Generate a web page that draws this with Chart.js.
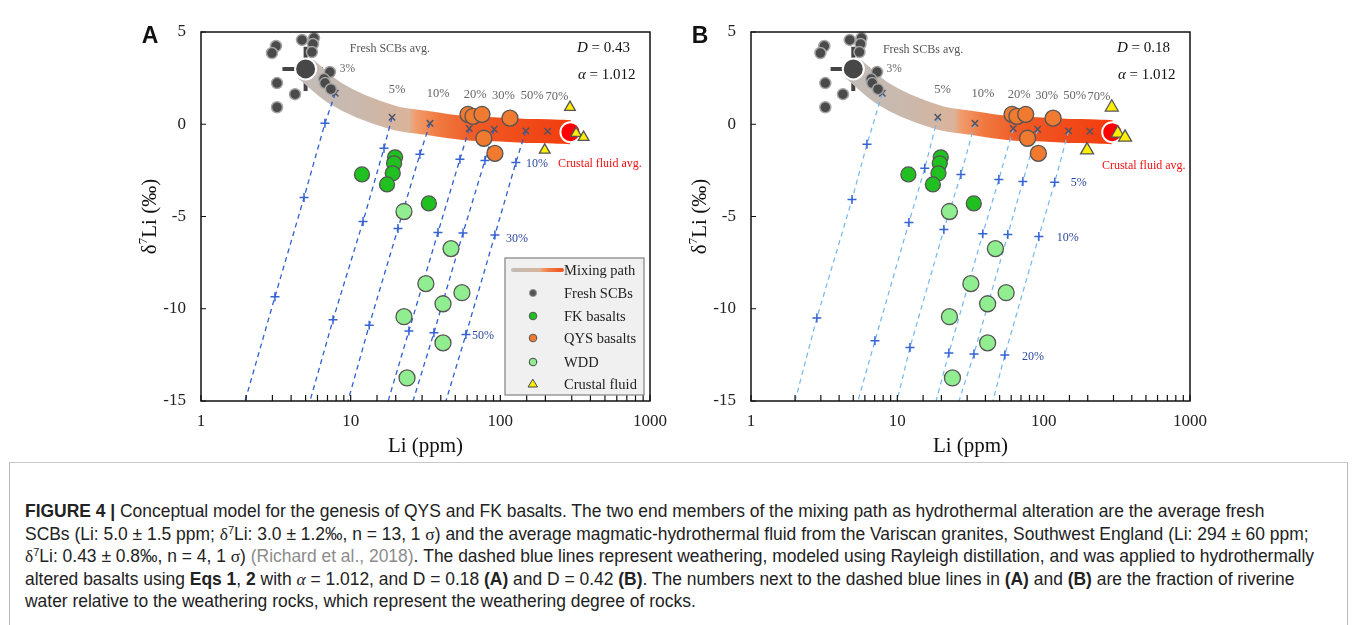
<!DOCTYPE html>
<html>
<head>
<meta charset="utf-8">
<script src="https://cdn.jsdelivr.net/npm/chart.js@4.4.0/dist/chart.umd.min.js"></script>
<style>
  body { margin: 0; background: #fff; width: 1355px; height: 625px; overflow: hidden; position: relative; }
  canvas { position: absolute; top: 0; }
  #ca { left: 0; }
  #cb { left: 550px; }
  #cap { position: absolute; left: 9px; top: 462px; width: 1337px; height: 180px; border: 1px solid #b8b8b8;
         border-top-color: #c8c8c8; font-family: "Liberation Sans", Arial, sans-serif; color: #222; }
  .ln { position: absolute; left: 15px; white-space: nowrap; font-size: 17.45px; line-height: 20px; }
  .ln b { font-weight: bold; }
  .ref { color: #8c8c8c; }
  .gk { font-family: "Liberation Serif", "Times New Roman", serif; }
  sup { font-size: 11px; line-height: 0; vertical-align: 6px; }
</style>
</head>
<body>
<div id="cap">
  <div class="ln" style="top:38px"><b>FIGURE 4 |</b> Conceptual model for the genesis of QYS and FK basalts. The two end members of the mixing path as hydrothermal alteration are the average fresh</div>
  <div class="ln" style="top:60.5px">SCBs (Li: 5.0 ± 1.5 ppm; <span class="gk">δ</span><sup>7</sup>Li: 3.0 ± 1.2‰, n = 13, 1 <span class="gk">σ</span>) and the average magmatic-hydrothermal fluid from the Variscan granites, Southwest England (Li: 294 ± 60 ppm;</div>
  <div class="ln" style="top:83px"><span class="gk">δ</span><sup>7</sup>Li: 0.43 ± 0.8‰, n = 4, 1 <span class="gk">σ</span>) <span class="ref">(Richard et al., 2018)</span>. The dashed blue lines represent weathering, modeled using Rayleigh distillation, and was applied to hydrothermally</div>
  <div class="ln" style="top:105.5px">altered basalts using <b>Eqs 1</b>, <b>2</b> with <i class="gk">α</i> = 1.012, and D = 0.18 <b>(A)</b> and D = 0.42 <b>(B)</b>. The numbers next to the dashed blue lines in <b>(A)</b> and <b>(B)</b> are the fraction of riverine</div>
  <div class="ln" style="top:128px">water relative to the weathering rocks, which represent the weathering degree of rocks.</div>
</div>
<canvas id="ca" width="680" height="470"></canvas>
<canvas id="cb" width="690" height="470"></canvas>
<script>
const SERIF = '"Liberation Serif", "Times New Roman", serif';

const liTicks = [1, 10, 100, 1000];
const dTicks = [5, 0, -5, -10, -15];

// samples (same in both panels)
const scbLi = [3.17, 2.98, 4.73, 5.69, 5.6, 5.51, 3.22, 4.25, 3.22, 7.27, 6.63, 6.74, 7.38];
const scbD = [4.24, 3.86, 4.57, 4.67, 4.35, 3.91, 2.23, 1.63, 0.92, 2.83, 2.45, 2.23, 1.9];
const fkLi = [19.8, 19.5, 19.1, 17.5, 11.9, 33.3];
const fkD = [-1.79, -2.12, -2.66, -3.26, -2.72, -4.29];
const qysLi = [60.8, 65.6, 75.4, 116, 77.6, 92];
const qysD = [0.54, 0.43, 0.54, 0.33, -0.76, -1.58];
const wddLi = [22.7, 46.8, 31.8, 55.4, 41.4, 22.7, 41.4, 23.8];
const wddD = [-4.73, -6.74, -8.64, -9.13, -9.73, -10.43, -11.85, -13.75];
const cfLi = [292, 321, 360, 198];
const cfD = [0.92, -0.49, -0.71, -1.4];

const scbAvg = [5.0, 3.0];
const scbErr = [1.5, 1.2];
const cfAvg = [294, -0.43];

// mixing path, end members plus the 3%..70% marks
const mixLi = [5, 7.9, 18.9, 33.9, 62, 91, 148, 207, 294];
const mixD = [3, 1.68, 0.38, 0.05, -0.23, -0.27, -0.36, -0.38, -0.43];
const mixPct = ['3%', '5%', '10%', '20%', '30%', '50%', '70%'];

// weathering lines, panel A (D = 0.43)
const wALi = [
  [7.9, 6.73, 4.88, 3.12, 1.97],
  [18.9, 16.7, 12.1, 7.62, 5.35],
  [33.9, 29.0, 20.7, 13.3, 9.6],
  [62, 53.7, 38.3, 24.5, 17.8],
  [91, 78.9, 56.3, 36.0, 26.1],
  [148, 127, 92, 58.9, 43.3]
];
const wAD = [
  [1.68, 0.05, -3.97, -9.35, -15],
  [0.38, -1.3, -5.27, -10.6, -15],
  [0.05, -1.63, -5.65, -10.9, -15],
  [-0.23, -1.9, -5.87, -11.2, -15],
  [-0.27, -1.96, -5.9, -11.3, -15],
  [-0.36, -2.07, -6.0, -11.4, -15]
];
const wAPct = ['10%', '30%', '50%'];

// weathering lines, panel B (D = 0.18)
const wBLi = [
  [7.9, 6.2, 4.9, 2.82, 2.0],
  [18.9, 15.4, 12.0, 7.03, 5.38],
  [33.9, 27.2, 20.8, 12.2, 9.94],
  [62, 49.4, 38.4, 22.5, 18.4],
  [91, 72.1, 56.9, 33.4, 26.4],
  [148, 119, 92.7, 54.3, 45.0]
];
const wBD = [
  [1.68, -1.09, -4.08, -10.5, -15],
  [0.38, -2.39, -5.33, -11.74, -15],
  [0.05, -2.72, -5.71, -12.1, -15],
  [-0.23, -2.99, -5.93, -12.4, -15],
  [-0.27, -3.1, -5.98, -12.45, -15],
  [-0.36, -3.15, -6.09, -12.5, -15]
];
const wBPct = ['5%', '10%', '20%'];

const pts = (xs, ys) => xs.map((x, i) => ({ x: x, y: ys[i] }));
const isTick = (arr, v) => arr.some(t => Math.abs(t - v) < 1e-6);

function bandGrad(ctx, x0, x1) {
  const g = ctx.createLinearGradient(x0, 0, x1, 0);
  g.addColorStop(0, '#c2bcb8');
  g.addColorStop(0.22, '#cbb8ab');
  g.addColorStop(0.39, '#dab39a');
  g.addColorStop(0.415, '#f09c6c');
  g.addColorStop(0.5, '#f07a42');
  g.addColorStop(0.64, '#f05a25');
  g.addColorStop(1, '#f23c0e');
  return g;
}

const deco = {
  id: 'deco',
  afterDraw(ch, args, o) {
    const { ctx, chartArea: ca, scales: { x, y } } = ch;
    ctx.save();
    // frame + inward ticks
    ctx.strokeStyle = '#111';
    ctx.lineWidth = 1.5;
    ctx.strokeRect(ca.left, ca.top, ca.right - ca.left, ca.bottom - ca.top);
    ctx.lineWidth = 1.2;
    ctx.beginPath();
    x.ticks.forEach(t => {
      const px = x.getPixelForValue(t.value);
      ctx.moveTo(px, ca.bottom);
      ctx.lineTo(px, ca.bottom - 6);
    });
    y.ticks.forEach(t => {
      const py = y.getPixelForValue(t.value);
      ctx.moveTo(ca.left, py);
      ctx.lineTo(ca.left + 5, py);
    });
    ctx.stroke();

    ctx.textBaseline = 'middle';
    // panel letter
    ctx.fillStyle = '#111';
    ctx.textAlign = 'center';
    ctx.font = 'bold 23px "Liberation Sans", Arial, sans-serif';
    ctx.fillText(o.tag, o.tagX, 37);

    // axis titles
    ctx.font = '21px ' + SERIF;
    ctx.fillText('Li (ppm)', (ca.left + ca.right) / 2, 446);
    ctx.save();
    ctx.translate(150, (ca.top + ca.bottom) / 2);
    ctx.rotate(-Math.PI / 2);
    const f1 = '21px ' + SERIF, f2 = '13px ' + SERIF;
    ctx.font = f1; const w1 = ctx.measureText('δ').width, w3 = ctx.measureText('Li (‰)').width;
    ctx.font = f2; const w2 = ctx.measureText('7').width;
    let sx = -(w1 + w2 + w3) / 2;
    ctx.textAlign = 'left';
    ctx.font = f1; ctx.fillText('δ', sx, 0); sx += w1;
    ctx.font = f2; ctx.fillText('7', sx, -6); sx += w2;
    ctx.font = f1; ctx.fillText('Li (‰)', sx, 0);
    ctx.restore();

    // D and alpha
    ctx.textAlign = 'left';
    const tx = ca.right - 73;
    ctx.font = 'italic 15px ' + SERIF;
    ctx.fillText('D', tx, 48);
    let wD = ctx.measureText('D').width;
    ctx.font = '15px ' + SERIF;
    ctx.fillText(' = ' + o.dVal, tx + wD, 48);
    ctx.font = 'italic 15px ' + SERIF;
    ctx.fillText('α', tx + 1, 75);
    wD = ctx.measureText('α').width;
    ctx.font = '15px ' + SERIF;
    ctx.fillText(' = 1.012', tx + 1 + wD, 75);

    // text notes anchored in data space
    ctx.textAlign = 'center';
    o.notes.forEach(n => {
      ctx.font = n[3] + 'px ' + SERIF;
      ctx.fillStyle = n[4];
      ctx.fillText(n[0], x.getPixelForValue(n[1]), y.getPixelForValue(n[2]));
    });

    // legend
    if (o.legend) {
      const L = o.legend;
      ctx.fillStyle = '#f0f0f0';
      ctx.fillRect(L.x, L.y, L.w, L.h);
      ctx.strokeStyle = '#8a8a8a';
      ctx.lineWidth = 1.3;
      ctx.strokeRect(L.x, L.y, L.w, L.h);
      const rows = [270, 293, 316, 338, 362, 384];
      const names = ['Mixing path', 'Fresh SCBs', 'FK basalts', 'QYS basalts', 'WDD', 'Crustal fluid'];
      const mx = L.x + 28;
      ctx.lineCap = 'round';
      ctx.strokeStyle = bandGrad(ctx, L.x + 4, L.x + 84);
      ctx.lineWidth = 4;
      ctx.beginPath(); ctx.moveTo(L.x + 8, rows[0]); ctx.lineTo(L.x + 57, rows[0]); ctx.stroke();
      const dot = (cy, r, fill, edge) => {
        ctx.beginPath(); ctx.arc(mx, cy, r, 0, Math.PI * 2);
        ctx.fillStyle = fill; ctx.fill();
        ctx.lineWidth = 1; ctx.strokeStyle = edge; ctx.stroke();
      };
      dot(rows[1], 3.6, '#555', '#999');
      dot(rows[2], 3.8, '#1fc01f', '#555');
      dot(rows[3], 3.8, '#f07a30', '#555');
      dot(rows[4], 3.8, '#90ee90', '#444');
      ctx.beginPath();
      ctx.moveTo(mx, rows[5] - 4.5); ctx.lineTo(mx + 4.5, rows[5] + 3); ctx.lineTo(mx - 4.5, rows[5] + 3); ctx.closePath();
      ctx.fillStyle = '#ffee00'; ctx.fill(); ctx.strokeStyle = '#444'; ctx.lineWidth = 1; ctx.stroke();
      ctx.fillStyle = '#222';
      ctx.textAlign = 'left';
      ctx.font = '14.5px ' + SERIF;
      names.forEach((t, i) => ctx.fillText(t, L.x + 59, rows[i] + 1));
    }
    ctx.restore();
  }
};

function makeChart(id, p) {
  const ds = [];
  ds.push({ label: 'Crustal fluid', data: pts(cfLi, cfD), pointStyle: 'triangle', pointRadius: p.tri,
    backgroundColor: '#ffee00', borderColor: '#555', borderWidth: 1.3, order: 0, clip: false });
  ds.push({ label: 'Fresh SCBs avg.', data: pts([scbAvg[0]], [scbAvg[1]]), pointRadius: 10.5,
    backgroundColor: '#474747', borderColor: '#fff', borderWidth: 2, order: 1, clip: false });
  ds.push({ label: 'Crustal fluid avg.', data: pts([cfAvg[0]], [cfAvg[1]]), pointRadius: 10,
    backgroundColor: '#ff0000', borderColor: '#fff', borderWidth: 2, order: 1, clip: false });
  ds.push({ label: 'WDD', data: pts(wddLi, wddD), pointRadius: 8, backgroundColor: '#90ee90',
    borderColor: '#555', borderWidth: 1.3, order: 2, clip: false });
  ds.push({ label: 'QYS basalts', data: pts(qysLi, qysD), pointRadius: 8, backgroundColor: '#f07a30',
    borderColor: '#555', borderWidth: 1.3, order: 2, clip: false });
  ds.push({ label: 'FK basalts', data: pts(fkLi, fkD), pointRadius: 7.5, backgroundColor: '#1fc01f',
    borderColor: '#555', borderWidth: 1.3, order: 2, clip: false });
  ds.push({ label: 'Fresh SCBs', data: pts(scbLi, scbD), pointRadius: 5.5, backgroundColor: '#4a4a4a',
    borderColor: '#a5a5a5', borderWidth: 1.5, order: 3, clip: false });
  ds.push({ label: 'mix marks', data: pts(mixLi.slice(1, 8), mixD.slice(1, 8)), pointStyle: 'crossRot',
    pointRadius: 4.5, borderColor: '#4c5566', borderWidth: 1.5, order: 5 });
  p.wLi.forEach((li, k) => {
    ds.push({ label: 'weathering ' + k, data: pts(li, p.wD[k]), showLine: true, tension: 0,
      borderColor: p.lineCol, borderWidth: p.lineW, borderDash: [5, 4],
      pointStyle: 'cross', pointRadius: c => (c.dataIndex > 0 && c.dataIndex < 4) ? 4.5 : 0,
      pointBorderColor: '#3563d4', pointBorderWidth: 1.5, pointBackgroundColor: 'transparent', order: 6 });
  });
  ds.push({ label: 'Mixing path', data: pts(mixLi, mixD), showLine: true, cubicInterpolationMode: 'monotone',
    borderWidth: 24, borderCapStyle: 'butt', pointRadius: 0, order: 8,
    borderColor: c => {
      const ch = c.chart;
      if (!ch.chartArea) return '#f06030';
      const xs = ch.scales.x;
      return bandGrad(ch.ctx, xs.getPixelForValue(mixLi[0]), xs.getPixelForValue(mixLi[mixLi.length - 1]));
    } });
  ds.push({ label: 'err x', data: pts([scbAvg[0] - scbErr[0], scbAvg[0] + scbErr[0]], [scbAvg[1], scbAvg[1]]),
    showLine: true, borderColor: '#444', borderWidth: 4, pointRadius: 0, order: 9 });
  ds.push({ label: 'err y', data: pts([scbAvg[0], scbAvg[0]], [scbAvg[1] - scbErr[1], scbAvg[1] + scbErr[1]]),
    showLine: true, borderColor: '#444', borderWidth: 4, pointRadius: 0, order: 9 });

  const notes = [['Fresh SCBs avg.', p.freshAt[0], p.freshAt[1], 12, '#555'],
                 ['Crustal fluid avg.', p.fluidAt[0], p.fluidAt[1], 12, '#f01010']];
  const mixAtLi = [9.5, 20.4, 38.5, 68, 105, 163, 239];
  const mixAtD = [2.98, 1.87, 1.63, 1.58, 1.52, 1.52, 1.47];
  mixPct.forEach((t, i) => notes.push([t, mixAtLi[i], mixAtD[i], i === 0 ? 11.5 : 12.5, '#666']));
  p.pct.forEach((t, i) => notes.push([t, p.pctAt[i][0], p.pctAt[i][1], 12, '#2b48a0']));

  return new Chart(document.getElementById(id), {
    type: 'scatter',
    data: { datasets: ds },
    plugins: [deco],
    options: {
      responsive: false,
      animation: false,
      events: [],
      devicePixelRatio: 1,
      layout: { padding: { left: 0, top: 32, right: p.padR, bottom: 0 } },
      plugins: { legend: { display: false }, tooltip: { enabled: false },
        deco: { tag: p.tag, tagX: 150, dVal: p.dVal, notes: notes, legend: p.legend } },
      scales: {
        x: { type: 'logarithmic', min: 1, max: 1000,
          grid: { display: false, drawTicks: false }, border: { display: false },
          ticks: { autoSkip: false, maxRotation: 0, padding: 10, color: '#222', font: { family: SERIF, size: 17 },
            callback: v => isTick(liTicks, v) ? String(v) : '' },
          afterFit: s => { s.height = 69; } },
        y: { type: 'linear', min: -15, max: 5,
          grid: { display: false, drawTicks: false }, border: { display: false },
          ticks: { stepSize: 5, padding: 15, color: '#222', font: { family: SERIF, size: 17 },
            callback: v => isTick(dTicks, v) ? String(v) : '' },
          afterFit: s => { s.width = 201; } }
      }
    }
  });
}

makeChart('ca', {
  tag: 'A', dVal: '0.43', padR: 30, wLi: wALi, wD: wAD, lineCol: '#2f5fd0', lineW: 1.3, tri: 6.2,
  pct: wAPct, pctAt: [[176, -2.12], [129, -6.2], [76.5, -11.47]],
  freshAt: [18.3, 4.08], fluidAt: [463, -2.12],
  legend: { x: 505, y: 258, w: 139, h: 137 }
});
makeChart('cb', {
  tag: 'B', dVal: '0.18', padR: 50, wLi: wBLi, wD: wBD, lineCol: '#74b6f0', lineW: 1.2, tri: 7.5,
  pct: wBPct, pctAt: [[174, -3.2], [146, -6.14], [84.4, -12.6]],
  freshAt: [15.0, 4.02], fluidAt: [483, -2.23],
  legend: null
});
</script>
</body>
</html>
